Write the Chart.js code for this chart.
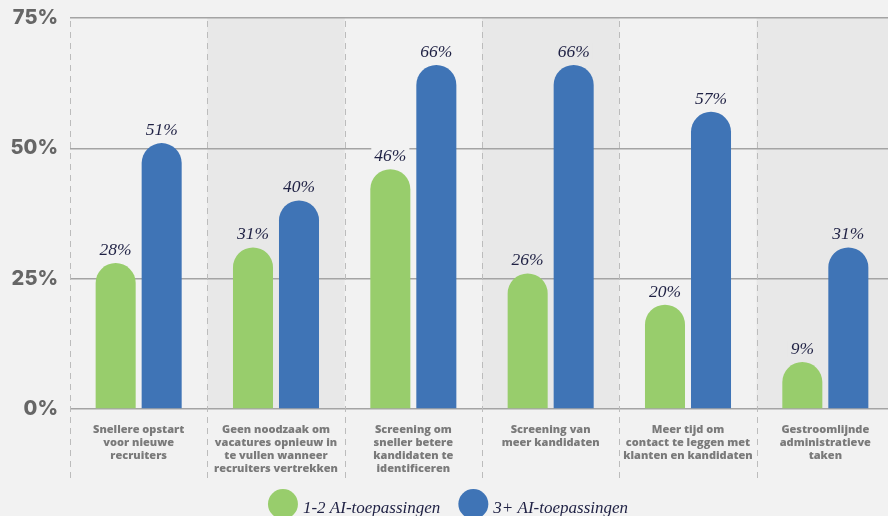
<!DOCTYPE html>
<html>
<head>
<meta charset="utf-8">
<script src="https://cdn.jsdelivr.net/npm/chart.js@4/dist/chart.umd.min.js"></script>
<style>
  html, body { margin: 0; padding: 0; background: #f2f2f2; overflow: hidden; }
  #wrap { width: 894px; height: 516px; }
</style>
</head>
<body>
<div id="wrap"><canvas id="chart" width="894" height="516"></canvas></div>
<script>
/* global Chart */

// ---------- Data ----------

const categories = [
  ['Snellere opstart', 'voor nieuwe', 'recruiters'],
  ['Geen noodzaak om', 'vacatures opnieuw in', 'te vullen wanneer', 'recruiters vertrekken'],
  ['Screening om', 'sneller betere', 'kandidaten te', 'identificeren'],
  ['Screening van', 'meer kandidaten'],
  ['Meer tijd om', 'contact te leggen met', 'klanten en kandidaten'],
  ['Gestroomlijnde', 'administratieve', 'taken'],
];
const fewApps = [28, 31, 46, 26, 20, 9];     // 1-2 AI-toepassingen
const manyApps = [51, 40, 66, 66, 57, 31];   // 3+ AI-toepassingen
const yTicks = [0, 25, 50, 75];

const GREEN = '#98cd6c';
const BLUE = '#3f74b6';
const BG = '#f2f2f2';
const SHADE = '#e8e8e8';
const LABEL_COLOR = '#1f2144';
const SERIF = '"Liberation Serif", "DejaVu Serif", serif';

// ---------- Plugins ----------

function columnBounds(chart, i) {
  const x = chart.scales.x;
  const half = (x.getPixelForValue(1) - x.getPixelForValue(0)) / 2;
  const c = x.getPixelForValue(i);
  return [c - half, c + half];
}

// alternating column shading + background
const columnShading = {
  id: 'columnShading',
  beforeDraw(chart) {
    const { ctx, chartArea } = chart;
    ctx.save();
    ctx.fillStyle = BG;
    ctx.fillRect(0, 0, chart.width, chart.height);
    ctx.fillStyle = SHADE;
    categories.forEach((_, i) => {
      if (i % 2 === 0) return;
      const [l, r] = columnBounds(chart, i);
      ctx.fillRect(l, chartArea.top, r - l, chartArea.bottom - chartArea.top);
    });
    ctx.restore();
  },
  afterDraw(chart) {
    // dashed column separators, running down through the label area
    const { ctx, chartArea } = chart;
    ctx.save();
    ctx.strokeStyle = '#bcbcbc';
    ctx.lineWidth = 1;
    ctx.setLineDash([6, 5]);
    for (let i = 0; i <= categories.length; i++) {
      const [l] = i < categories.length ? columnBounds(chart, i) : [columnBounds(chart, i - 1)[1]];
      ctx.beginPath();
      ctx.moveTo(Math.round(l) + 0.5, chartArea.top + 3);
      ctx.lineTo(Math.round(l) + 0.5, chartArea.bottom + 70);
      ctx.stroke();
    }
    ctx.restore();
  },
};

// value labels above bars
const valueLabels = {
  id: 'valueLabels',
  afterDatasetsDraw(chart) {
    const { ctx } = chart;
    ctx.save();
    ctx.font = `italic 17.5px ${SERIF}`;
    ctx.textAlign = 'center';
    ctx.textBaseline = 'alphabetic';
    chart.data.datasets.forEach((ds, di) => {
      chart.getDatasetMeta(di).data.forEach((bar, i) => {
        const text = ds.data[i] + '%';
        const w = ctx.measureText(text).width;
        const baseY = bar.y - 8;
        ctx.fillStyle = i % 2 === 0 ? BG : SHADE;
        ctx.fillRect(bar.x - w / 2 - 3, baseY - 14, w + 6, 17);
        ctx.fillStyle = LABEL_COLOR;
        ctx.fillText(text, bar.x, baseY);
      });
    });
    ctx.restore();
  },
};

// legend with large circles at the bottom
const bigLegend = {
  id: 'bigLegend',
  afterDraw(chart) {
    const { ctx } = chart;
    const r = 15, gapText = 5, gapItem = 18, cy = 504, baseY = 513;
    ctx.save();
    ctx.font = `italic 17px ${SERIF}`;
    const items = chart.data.datasets.map(ds => ({
      label: ds.label, color: ds.backgroundColor, w: ctx.measureText(ds.label).width,
    }));
    const total = items.reduce((s, it) => s + 2 * r + gapText + it.w, 0) + gapItem * (items.length - 1);
    let x = (chart.width - total) / 2 + 1;
    items.forEach(it => {
      ctx.fillStyle = it.color;
      ctx.beginPath();
      ctx.arc(x + r, cy, r, 0, Math.PI * 2);
      ctx.fill();
      ctx.fillStyle = LABEL_COLOR;
      ctx.textAlign = 'left';
      ctx.fillText(it.label, x + 2 * r + gapText, baseY);
      x += 2 * r + gapText + it.w + gapItem;
    });
    ctx.restore();
  },
};

// ---------- Chart ----------

new Chart(document.getElementById('chart'), {
  type: 'bar',
  data: {
    labels: categories,
    datasets: [
      { label: '1-2 AI-toepassingen', data: fewApps, backgroundColor: GREEN },
      { label: '3+ AI-toepassingen', data: manyApps, backgroundColor: BLUE },
    ],
  },
  options: {
    responsive: false,
    animation: false,
    devicePixelRatio: 1,
    layout: { padding: { top: 18, right: 0, left: 0, bottom: 0 } },
    categoryPercentage: 0.67,
    barPercentage: 0.87,
    borderRadius: 20,
    borderSkipped: 'start',
    plugins: {
      legend: { display: false },
      tooltip: { enabled: false },
    },
    scales: {
      x: {
        grid: { display: false },
        border: { display: false },
        afterFit: (s) => { s.height = 107; s.paddingLeft = 0; s.paddingRight = 0; },
        ticks: {
          color: '#7a7a7a',
          font: { family: '"Open Sans", sans-serif', size: 11, weight: '800', lineHeight: 1.18 },
          padding: 6,
          maxRotation: 0,
          autoSkip: false,
        },
      },
      y: {
        min: 0,
        max: 75,
        afterBuildTicks: (s) => { s.ticks = yTicks.map(v => ({ value: v })); },
        afterFit: (s) => { s.width = 70; s.paddingTop = 0; s.paddingBottom = 0; },
        border: { display: false },
        grid: { color: '#a4a4a4', lineWidth: 1.5, drawTicks: false },
        ticks: {
          color: '#666666',
          font: { family: 'Inter, sans-serif', size: 20, weight: '800' },
          padding: 12,
          callback: (v) => v + '%',
        },
      },
    },
  },
  plugins: [columnShading, valueLabels, bigLegend],
});
</script>
</body>
</html>
